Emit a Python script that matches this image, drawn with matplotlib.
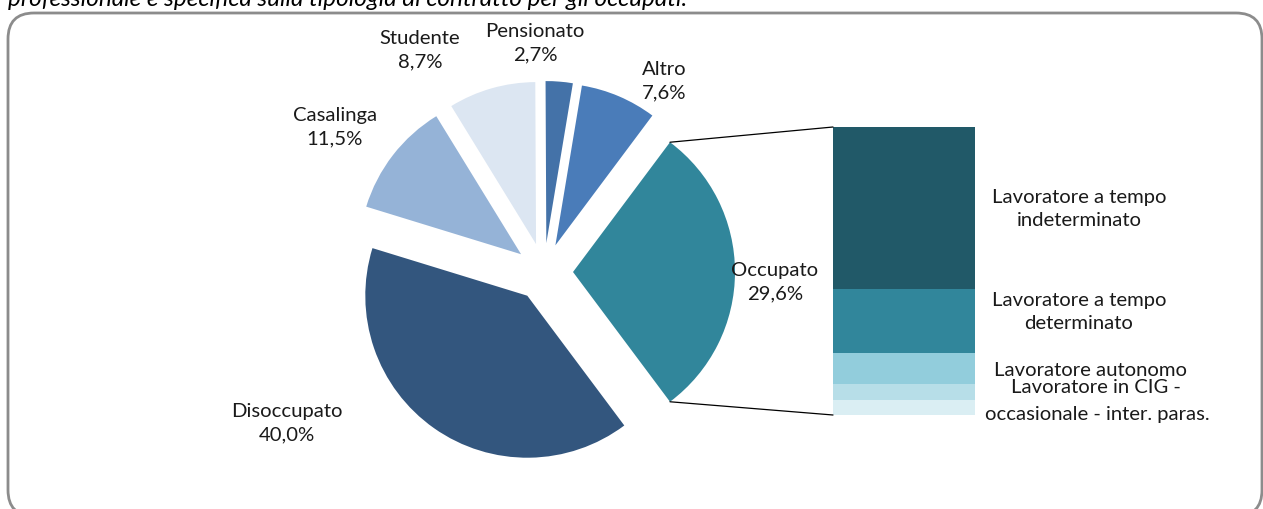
import matplotlib
matplotlib.use("Agg")
import matplotlib.pyplot as plt
from matplotlib.patches import FancyBboxPatch, ConnectionPatch
import numpy as np

# ---- data ----
pie_labels = ["Occupato", "Altro", "Pensionato", "Studente", "Casalinga", "Disoccupato"]
pie_values = [29.6, 7.6, 2.7, 8.7, 11.5, 40.0]
pie_colors = ["#31869B", "#4A7CB9", "#4472A8", "#DCE6F2", "#95B3D7", "#33567E"]

bar_labels = ["Lavoratore a tempo\nindeterminato",
              "Lavoratore a tempo\ndeterminato",
              "Lavoratore autonomo",
              "Lavoratore in CIG -",
              "occasionale - inter. paras."]
bar_values = [16.6, 6.6, 3.2, 1.7, 1.5]
bar_colors = ["#215968", "#31869B", "#92CDDC", "#B7DEE8", "#DAEEF3"]

title_text = "professionale e specifica sulla tipologia di contratto per gli occupati."

W, H = 1263, 510
FONT = ["Lato", "DejaVu Sans"]
plt.rcParams["font.family"] = FONT
FS = 14.6

fig = plt.figure(figsize=(W / 100, H / 100), dpi=100)
ax = fig.add_axes([0, 0, 1, 1])

# pie
occ_share = pie_values[0] / sum(pie_values) * 360
wedges, _ = ax.pie(pie_values, colors=pie_colors, startangle=-occ_share / 2,
                   counterclock=True, radius=162, center=(544, 237),
                   explode=[29] * len(pie_values),
                   wedgeprops=dict(linewidth=0), frame=True)
ax.set_xlim(0, W)
ax.set_ylim(0, H)
ax.set_aspect("equal")
ax.axis("off")

# rounded border
border = FancyBboxPatch((8, -7), 1254, H - 14 + 7,
                        boxstyle="round,pad=0,rounding_size=26",
                        fc="none", ec="#8c8c8c", lw=2, zorder=0)
ax.add_patch(border)

# cut-off title (partly outside the top edge, as in the original)
ax.text(8, 504, title_text, fontsize=17.5, style="italic", color="#000000",
        va="baseline", ha="left")

label_pos = [(775, 228), (664, 429), (535, 467), (420, 460), (335, 383), (287, 87)]
for name, val, (lx, ly) in zip(pie_labels, pie_values, label_pos):
    ax.text(lx, ly, f"{name}\n{val:.1f}%".replace(".", ","), ha="center",
            va="center", fontsize=FS, linespacing=1.45, color="#1a1a1a", zorder=5)

# bar of pie
bx0, bx1, by_top, by_bot = 833, 975, 128, 416
bax = fig.add_axes([bx0 / W, (H - by_bot) / H, (bx1 - bx0) / W, (by_bot - by_top) / H])
total = sum(bar_values)
bottom = total
for v, c in zip(bar_values, bar_colors):
    bottom -= v
    bax.bar(0, v, bottom=bottom, width=1.0, color=c, linewidth=0)
bax.set_xlim(-0.5, 0.5)
bax.set_ylim(0, total)
bax.axis("off")

# connector lines
occ = wedges[0]
cx, cy = occ.center
r = occ.r
for theta, yfrac in [(occ.theta2, 1.0), (occ.theta1, 0.0)]:
    px = cx + r * np.cos(np.radians(theta))
    py = cy + r * np.sin(np.radians(theta))
    con = ConnectionPatch(xyA=(px, py), coordsA=ax.transData,
                          xyB=(0, yfrac), coordsB=bax.transAxes,
                          color="#000000", lw=0.9)
    fig.add_artist(con)

bar_label_pos = [(1079, H - 209), (1079, H - 312), (1091, H - 370),
                 (1096, H - 388), (1097, H - 415)]
for txt, (lx, ly) in zip(bar_labels, bar_label_pos):
    ax.text(lx, ly, txt, ha="center", va="center", fontsize=FS,
            linespacing=1.45, color="#1a1a1a")

fig.savefig("out.png", dpi=100)
